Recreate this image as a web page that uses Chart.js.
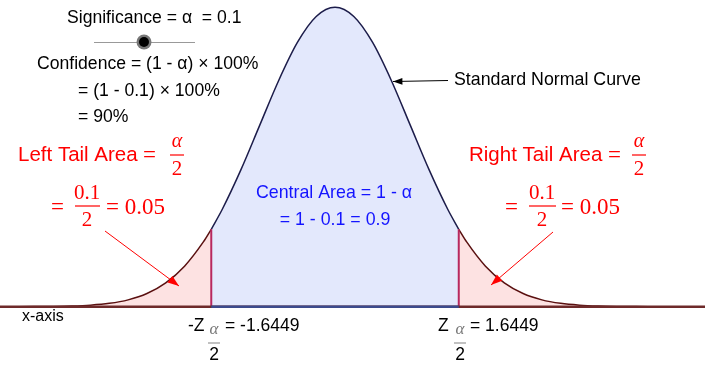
<!DOCTYPE html>
<html>
<head>
<meta charset="utf-8">
<script src="https://cdn.jsdelivr.net/npm/chart.js@4.4.1/dist/chart.umd.min.js"></script>
<style>
  html, body { margin: 0; padding: 0; background: #fff; }
  #chart { display: block; }
</style>
</head>
<body>
<canvas id="chart" width="705" height="392"></canvas>
<script>
// z values and standard normal density
var zValues = [-4.5, -4.25, -4, -3.75, -3.5, -3.25, -3, -2.75, -2.5, -2.25, -2, -1.75, -1.6449,
  -1.5, -1.25, -1, -0.75, -0.5, -0.25, 0, 0.25, 0.5, 0.75, 1, 1.25, 1.5,
  1.6449, 1.75, 2, 2.25, 2.5, 2.75, 3, 3.25, 3.5, 3.75, 4, 4.25, 4.5, 4.75, 5];
var density = [0.00002, 0.00005, 0.00013, 0.00035, 0.00087, 0.00203, 0.00443, 0.00909, 0.01753, 0.03174, 0.05399, 0.08628, 0.10314,
  0.12952, 0.18265, 0.24197, 0.30114, 0.35207, 0.38667, 0.39894, 0.38667, 0.35207, 0.30114, 0.24197, 0.18265, 0.12952,
  0.10314, 0.08628, 0.05399, 0.03174, 0.01753, 0.00909, 0.00443, 0.00203, 0.00087, 0.00035, 0.00013, 0.00005, 0.00002, 0.000005, 0.0000015];
var zCrit = 1.6449;
var xRange = [-4.453, 4.918];
var yRange = [-0.1137, 0.4087];

function pts(lo, hi) {
  var out = [];
  for (var i = 0; i < zValues.length; i++) {
    if (zValues[i] >= lo - 1e-9 && zValues[i] <= hi + 1e-9) out.push({ x: zValues[i], y: density[i] });
  }
  return out;
}
var critY = density[zValues.indexOf(zCrit)];

// labels and arrows drawn on top
var annotations = {
  id: 'annotations',
  afterDraw: function(chart) {
    var ctx = chart.ctx;
    ctx.save();
    function txt(s, x, y, font, color, align) {
      ctx.font = font;
      ctx.fillStyle = color;
      ctx.textAlign = align || 'left';
      ctx.textBaseline = 'middle';
      ctx.fillText(s, x, y);
    }
    function arrow(x1, y1, x2, y2, color, w, head) {
      ctx.strokeStyle = color;
      ctx.fillStyle = color;
      ctx.lineWidth = w;
      ctx.beginPath(); ctx.moveTo(x1, y1); ctx.lineTo(x2, y2); ctx.stroke();
      var a = Math.atan2(y2 - y1, x2 - x1);
      ctx.beginPath();
      ctx.moveTo(x2, y2);
      ctx.lineTo(x2 - head * Math.cos(a - 0.35), y2 - head * Math.sin(a - 0.35));
      ctx.lineTo(x2 - head * Math.cos(a + 0.35), y2 - head * Math.sin(a + 0.35));
      ctx.closePath(); ctx.fill();
    }
    function bar(x1, x2, y, color) {
      ctx.fillStyle = color;
      ctx.fillRect(x1, y - 0.6, x2 - x1, 1.2);
    }
    var sans = '"Liberation Sans", Arial, sans-serif';
    var serif = '"Liberation Serif", "DejaVu Serif", serif';
    var red = '#ff0000';

    // slider block
    txt('Significance = \u03b1  = 0.1', 67, 18, '17.6px ' + sans, '#000');
    ctx.strokeStyle = '#999'; ctx.lineWidth = 1;
    ctx.beginPath(); ctx.moveTo(94, 42.5); ctx.lineTo(195, 42.5); ctx.stroke();
    ctx.fillStyle = '#777'; ctx.beginPath(); ctx.arc(144, 42, 7.5, 0, Math.PI * 2); ctx.fill();
    ctx.fillStyle = '#000'; ctx.beginPath(); ctx.arc(144, 42, 5, 0, Math.PI * 2); ctx.fill();
    txt('Confidence = (1 - \u03b1) \u00d7 100%', 37, 64, '17.6px ' + sans, '#000');
    txt('= (1 - 0.1) \u00d7 100%', 78, 91, '17.6px ' + sans, '#000');
    txt('= 90%', 78, 117, '17.6px ' + sans, '#000');

    // standard normal curve label
    txt('Standard Normal Curve', 454, 80, '17.8px ' + sans, '#000');
    arrow(448, 80.5, 393, 81.5, '#000', 1, 10);

    // left tail label
    txt('Left Tail Area', 18, 155, '20.5px ' + sans, red);
    txt('=', 143, 156, '23px ' + serif, red);
    txt('\u03b1', 177, 142, 'italic 20px ' + serif, red, 'center');
    bar(170, 184, 155, red);
    txt('2', 177, 169, '21px ' + serif, red, 'center');
    txt('=', 51, 208, '23px ' + serif, red);
    txt('0.1', 87, 193, '21px ' + serif, red, 'center');
    bar(75, 100, 206, red);
    txt('2', 87, 220, '21px ' + serif, red, 'center');
    txt('= 0.05', 106, 208, '23px ' + serif, red);
    arrow(105, 231, 179, 286, red, 1, 12);

    // right tail label
    txt('Right Tail Area', 469, 155, '20.5px ' + sans, red);
    txt('=', 608, 156, '23px ' + serif, red);
    txt('\u03b1', 639, 142, 'italic 20px ' + serif, red, 'center');
    bar(632, 646, 155, red);
    txt('2', 639, 169, '21px ' + serif, red, 'center');
    txt('=', 505, 208, '23px ' + serif, red);
    txt('0.1', 542, 193, '21px ' + serif, red, 'center');
    bar(529, 556, 206, red);
    txt('2', 542, 220, '21px ' + serif, red, 'center');
    txt('= 0.05', 561, 208, '23px ' + serif, red);
    arrow(553, 232, 491, 285, red, 1, 12);

    // central area
    txt('Central Area = 1 - \u03b1', 334, 193, '17.8px ' + sans, '#1414ff', 'center');
    txt('= 1 - 0.1 = 0.9', 335, 220, '17.8px ' + sans, '#1414ff', 'center');

    // axis labels
    txt('x-axis', 22, 317, '16px ' + sans, '#000');
    txt('-Z', 188, 326, '17.5px ' + sans, '#000');
    txt('\u03b1', 214, 330, 'italic 17px ' + serif, '#777', 'center');
    bar(208, 220, 343, '#999');
    txt('2', 214, 355, '17.5px ' + sans, '#000', 'center');
    txt('= -1.6449', 225, 326, '17.5px ' + sans, '#000');
    txt('Z', 438, 326, '17.5px ' + sans, '#000');
    txt('\u03b1', 460, 330, 'italic 17px ' + serif, '#777', 'center');
    bar(454, 466, 343, '#999');
    txt('2', 460, 355, '17.5px ' + sans, '#000', 'center');
    txt('= 1.6449', 470, 326, '17.5px ' + sans, '#000');
    ctx.restore();
  }
};

var line = function(data, color, w, fillColor, order) {
  return {
    data: data,
    borderColor: color,
    borderWidth: w,
    backgroundColor: fillColor || 'transparent',
    fill: fillColor ? 'origin' : false,
    pointRadius: 0,
    order: order || 0,
    cubicInterpolationMode: 'monotone'
  };
};

new Chart(document.getElementById('chart'), {
  type: 'line',
  data: {
    datasets: [
      line(pts(-10, -zCrit), '#5a1010', 1.5, '#fde2e2'),
      line(pts(-zCrit, zCrit), '#1c1c4a', 1.5, '#e3e8fc'),
      line(pts(zCrit, 10), '#5a1010', 1.5, '#fde2e2'),
      line([{ x: -zCrit, y: 0 }, { x: -zCrit, y: critY }], '#b8285e', 2, null, -1),
      line([{ x: zCrit, y: 0 }, { x: zCrit, y: critY }], '#b8285e', 2, null, -1),
      line([{ x: xRange[0], y: 0 }, { x: xRange[1], y: 0 }], '#6e2a2a', 2.5, null, -2),
      line([{ x: -zCrit, y: 0 }, { x: zCrit, y: 0 }], '#3c4a8c', 2.5, null, -3)
    ]
  },
  options: {
    responsive: false,
    animation: false,
    layout: { padding: 0 },
    plugins: { legend: { display: false }, tooltip: { enabled: false } },
    scales: {
      x: { type: 'linear', min: xRange[0], max: xRange[1], display: false },
      y: { min: yRange[0], max: yRange[1], display: false }
    }
  },
  plugins: [annotations]
});
</script>
</body>
</html>
